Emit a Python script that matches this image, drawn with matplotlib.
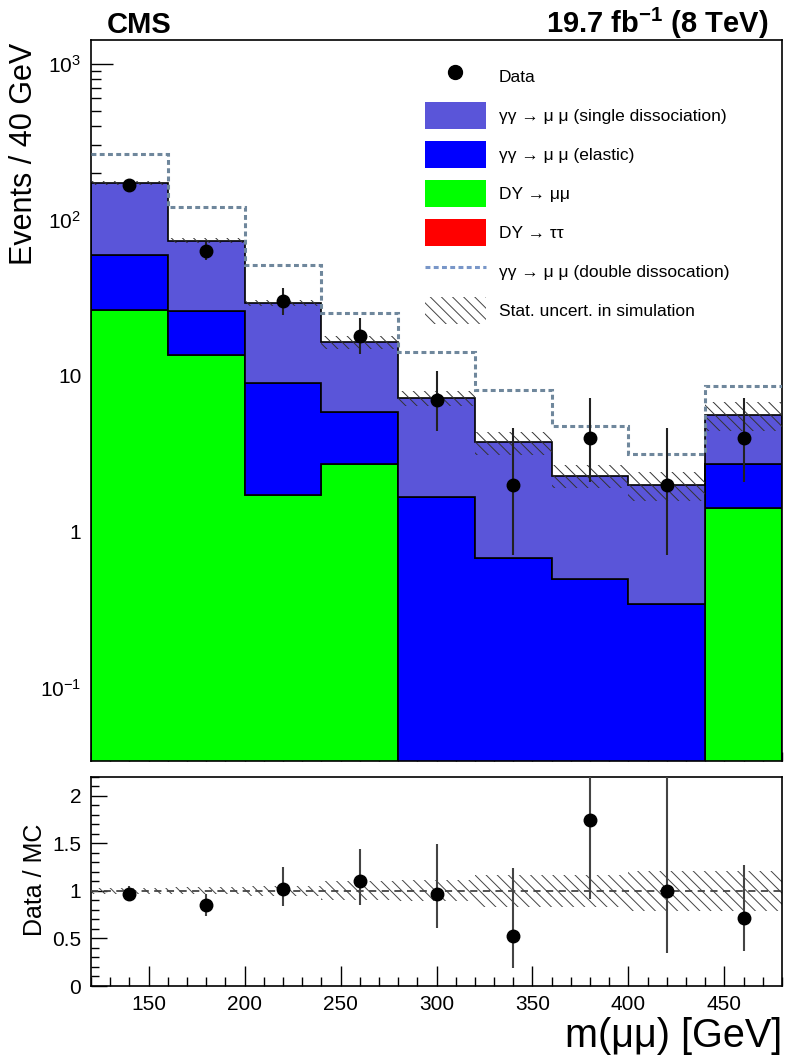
import numpy as np
import matplotlib
matplotlib.use('Agg')
import matplotlib.pyplot as plt
from matplotlib.lines import Line2D
from matplotlib.patches import Patch
from matplotlib.ticker import FixedLocator, FixedFormatter, MultipleLocator, LogLocator, NullFormatter
from matplotlib.font_manager import FontProperties

plt.rcParams['font.family'] = ['Liberation Sans', 'DejaVu Sans']
plt.rcParams['mathtext.fontset'] = 'custom'
plt.rcParams['mathtext.rm'] = 'Liberation Sans'
plt.rcParams['mathtext.it'] = 'Liberation Sans:italic'
plt.rcParams['mathtext.bf'] = 'Liberation Sans:bold'
plt.rcParams['hatch.linewidth'] = 0.7

# ---------------- data ----------------
bin_edges = [120, 160, 200, 240, 280, 320, 360, 400, 440, 480]
data_counts = [167, 63, 30, 18, 7, 2, 4, 2, 4]
data_err_lo = [12.4, 7.9, 5.45, 4.22, 2.58, 1.29, 1.91, 1.29, 1.91]
data_err_hi = [13.4, 8.97, 6.54, 5.30, 3.77, 2.64, 3.16, 2.64, 3.16]

dy_tautau = [0, 0, 0, 0, 0, 0, 0, 0, 0]
dy_mumu = [26.4, 13.5, 1.72, 2.70, 0, 0, 0, 0, 1.42]
elastic = [33.4, 12.6, 7.26, 3.15, 1.67, 0.68, 0.50, 0.343, 1.28]
single_diss = [112.2, 47.4, 20.3, 10.55, 5.53, 3.07, 1.79, 1.657, 2.92]
double_diss_line = [263, 121, 51.3, 25.4, 14.1, 8.13, 4.73, 3.14, 8.54]
mc_stat_rel = [0.03, 0.035, 0.05, 0.10, 0.11, 0.17, 0.17, 0.21, 0.21]

ratio = [0.97, 0.85, 1.02, 1.10, 0.97, 0.53, 1.74, 1.0, 0.71]
ratio_err_lo = [0.06, 0.11, 0.18, 0.25, 0.36, 0.344, 0.83, 0.65, 0.34]
ratio_err_hi = [0.08, 0.12, 0.225, 0.335, 0.52, 0.705, 1.38, 1.32, 0.56]

y_tick_vals = [0.1, 1, 10, 100, 1000]
y_tick_labels = [r'$10^{-1}$', '1', '10', r'$10^{2}$', r'$10^{3}$']
r_tick_vals = [0, 0.5, 1, 1.5, 2]
r_tick_labels = ['0', '0.5', '1', '1.5', '2']

legend_labels = ['Data',
                 'γγ → μ μ (single dissociation)',
                 'γγ → μ μ (elastic)',
                 'DY → μμ',
                 'DY → ττ',
                 'γγ → μ μ (double dissocation)',
                 'Stat. uncert. in simulation']

# ---------------- styles ----------------
c_single = '#5a55d9'
c_elastic = '#0000ff'
c_dymumu = '#00ff00'
c_dytautau = '#ff0000'
c_double = '#6f879c'

edges = np.array(bin_edges, dtype=float)
centers = 0.5 * (edges[:-1] + edges[1:])

W, H = 787, 1058
def fx(px):
    return px / W
def fy(py):
    return 1 - py / H

fig = plt.figure(figsize=(W / 100, H / 100), dpi=100)
ax = fig.add_axes([fx(91), fy(761), fx(782) - fx(91), fy(40) - fy(761)])
rax = fig.add_axes([fx(91), fy(986), fx(782) - fx(91), fy(776.5) - fy(986)])

# stack
floor = 1e-4
low = np.zeros(len(centers))
for vals, col in [(dy_tautau, c_dytautau), (dy_mumu, c_dymumu),
                  (elastic, c_elastic), (single_diss, c_single)]:
    high = low + np.array(vals, dtype=float)
    ax.stairs(np.maximum(high, floor), edges, baseline=np.maximum(low, floor),
              fill=True, facecolor=col, edgecolor='black', linewidth=1.2, zorder=2)
    low = high
total = low

rel = np.array(mc_stat_rel)
hatch = '\\\\\\'
ax.stairs(total * (1 + rel), edges, baseline=total * (1 - rel), fill=True,
          facecolor='none', edgecolor='#333333', hatch=hatch, linewidth=0, zorder=3)
ax.stairs(double_diss_line, edges, baseline=None, color=c_double, linewidth=2.2,
          linestyle=(0, (1.6, 1.1)), zorder=4)
ax.errorbar(centers, data_counts, yerr=[data_err_lo, data_err_hi], fmt='o',
            color='black', ms=9, ecolor='#222222', elinewidth=1.5, capsize=0, zorder=5)

ax.set_yscale('log')
ax.set_xlim(120, 480)
ax.set_ylim(0.034, 1417)
ax.yaxis.set_major_locator(FixedLocator(y_tick_vals))
ax.yaxis.set_major_formatter(FixedFormatter(y_tick_labels))
ax.yaxis.set_minor_locator(LogLocator(base=10, subs=np.arange(2, 10)))
ax.yaxis.set_minor_formatter(NullFormatter())
ax.xaxis.set_major_locator(MultipleLocator(50))
ax.xaxis.set_minor_locator(MultipleLocator(10))
ax.tick_params(axis='both', which='both', direction='in', top=False, right=False)
ax.tick_params(axis='y', which='major', length=15.8, width=1, labelsize=15, pad=7)
ax.tick_params(axis='y', which='minor', length=7.2, width=1)
ax.tick_params(axis='x', which='major', length=14.4, width=1, labelbottom=False)
ax.tick_params(axis='x', which='minor', length=6.5, width=1)
for s in ax.spines.values():
    s.set_linewidth(1.2)

# legend
handles = [Line2D([], [], marker='o', color='black', ls='none', ms=10),
           Patch(facecolor=c_single, edgecolor='none'),
           Patch(facecolor=c_elastic, edgecolor='none'),
           Patch(facecolor=c_dymumu, edgecolor='none'),
           Patch(facecolor=c_dytautau, edgecolor='none'),
           Line2D([], [], color='#7896c8', lw=2.2, ls=(0, (1.6, 1.1))),
           Patch(facecolor='white', edgecolor='#444444', hatch=hatch, linewidth=0)]
ax.legend(handles, legend_labels, loc='upper left', bbox_to_anchor=(fx(425), fy(63)),
          bbox_transform=fig.transFigure, frameon=False,
          prop=FontProperties(family=['Liberation Sans', 'DejaVu Sans'], size=12.5),
          handlelength=3.5, handleheight=2.0, labelspacing=0.7,
          handletextpad=0.75, borderpad=0, borderaxespad=0)

# ratio panel
rax.stairs(1 + rel, edges, baseline=1 - rel, fill=True, facecolor='none',
           edgecolor='#444444', hatch=hatch, linewidth=0, zorder=2)
rax.axhline(1, color='#444444', ls=(0, (4, 3)), lw=1.3, zorder=3)
rax.errorbar(centers, ratio, yerr=[ratio_err_lo, ratio_err_hi], fmt='o', color='black',
             ms=9, ecolor='#444444', elinewidth=1.5, capsize=0, zorder=5)
rax.set_xlim(120, 480)
rax.set_ylim(0, 2.2)
rax.yaxis.set_major_locator(FixedLocator(r_tick_vals))
rax.yaxis.set_major_formatter(FixedFormatter(r_tick_labels))
rax.yaxis.set_minor_locator(MultipleLocator(0.1))
rax.xaxis.set_major_locator(MultipleLocator(50))
rax.xaxis.set_minor_locator(MultipleLocator(10))
rax.tick_params(axis='both', which='both', direction='in', top=False, right=False)
rax.tick_params(axis='y', which='major', length=11.5, width=1, labelsize=15, pad=7)
rax.tick_params(axis='y', which='minor', length=5.4, width=1)
rax.tick_params(axis='x', which='major', length=14.4, width=1, labelsize=15, pad=6.5)
rax.tick_params(axis='x', which='minor', length=6.5, width=1)
for s in rax.spines.values():
    s.set_linewidth(1.2)

# texts
fig.text(fx(107), fy(33), 'CMS', fontsize=21, fontweight='bold', ha='left', va='baseline')
fig.text(fx(768), fy(33), r'19.7 fb$^{\mathbf{-1}}$ (8 TeV)', fontsize=21,
         fontweight='bold', ha='right', va='baseline')
fig.text(fx(24), fy(43), 'Events / 40 GeV', rotation=90, fontsize=22, ha='center', va='top')
fig.text(fx(35), fy(880), 'Data / MC', rotation=90, fontsize=18, ha='center', va='center')
fig.text(fx(782), fy(1047), 'm(μμ) [GeV]', fontsize=28.5, ha='right', va='baseline')

fig.savefig('out.png', dpi=100)
